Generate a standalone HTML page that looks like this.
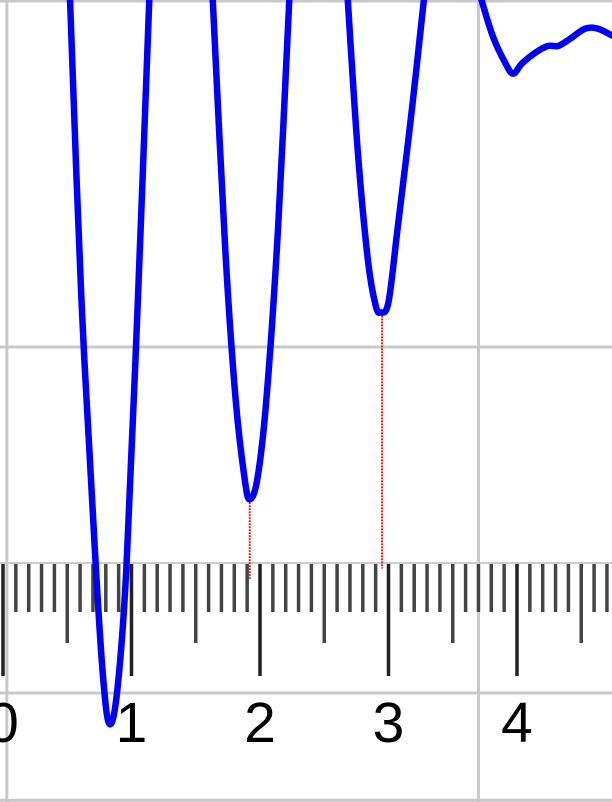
<!DOCTYPE html>
<html><head><meta charset="utf-8"><style>
html,body{margin:0;padding:0;background:#fff;overflow:hidden}
svg{display:block}
</style></head><body>
<svg id="chart" width="612" height="802" viewBox="0 0 612 802" xmlns="http://www.w3.org/2000/svg">
<g id="grid"></g>
<g id="ruler"></g>
<g id="stems"></g>
<path id="curve" fill="none" stroke="#0000ff" stroke-width="6.5" stroke-linejoin="round" stroke-linecap="round"/>
<g id="labels"></g>
</svg>
<script>
const curveX = [0.52,0.61,0.72,0.78,0.83,0.89,0.96,1.05,1.14, 1.63,1.73,1.81,1.88,1.92,1.98,2.05,2.14,2.23, 2.68,2.76,2.84,2.90,2.94,3.00,3.07,3.18,3.28, 3.71,3.81,3.91,3.97,4.04,4.14,4.24,4.32,4.41,4.53,4.63,4.74];
const curveY = [2.02,1.14,0.38,0.04,-0.09,0.01,0.36,1.14,2.02, 2.02,1.28,0.85,0.62,0.56,0.62,0.85,1.34,2.02, 2.02,1.57,1.25,1.12,1.10,1.13,1.34,1.68,2.02, 2.02,1.90,1.82,1.79,1.82,1.85,1.87,1.87,1.89,1.92,1.92,1.90];
const stemX = [1.92, 2.95];
const stemTop = [0.56, 1.10];
const stemBottom = [0.33, 0.36];
const tickLabels = ["0","1","2","3","4"];
const gridXs = [0.03, 3.70];
const gridYs = [2.0, 1.0, 0.0, -0.31];

const NS = "http://www.w3.org/2000/svg";
const sx = v => 3 + v * 128.5;
const sy = v => 693 - v * 346;
function mk(tag, attrs, parent){const e=document.createElementNS(NS,tag);for(const k in attrs)e.setAttribute(k,attrs[k]);parent.appendChild(e);return e;}

const grid = document.getElementById('grid');
gridXs.forEach(g=>{const l=mk('line',{x1:sx(g),x2:sx(g),y1:0,y2:802,stroke:'#c8c8c8','stroke-width':3},grid);

});
gridYs.forEach(g=>{const l=mk('line',{x1:0,x2:612,y1:sy(g),y2:sy(g),stroke:'#c8c8c8','stroke-width':3},grid);

});

const ruler = document.getElementById('ruler');
const rl = mk('line',{x1:0,x2:612,y1:563,y2:563,stroke:'#cccccc','stroke-width':2},ruler);


for(let i=0;i<=48;i++){
  const x=sx(i/10); let y2=612, col='#444', w=3.5;
  if(i%10===0){y2=676;col='#222';}
  else if(i%5===0){y2=643;}
  const t=mk('line',{x1:x,x2:x,y1:564,y2:y2,stroke:col,'stroke-width':w},ruler);
  
  
}

const stems = document.getElementById('stems');
stemX.forEach((x,i)=>{const l=mk('line',{x1:sx(x),x2:sx(x),y1:sy(stemTop[i]),y2:sy(stemBottom[i]),stroke:'#e02020','stroke-width':2,'stroke-dasharray':'2 1'},stems);

});

const pts = curveX.map((x,i)=>[sx(x),sy(curveY[i])]);
let d='';
let segs=[[pts[0]]];
for(let i=1;i<pts.length;i++){ if(curveX[i]-curveX[i-1]>0.3) segs.push([]); segs[segs.length-1].push(pts[i]); }
segs.forEach(s=>{
  d+=`M${s[0][0]},${s[0][1]}`;
  for(let i=0;i<s.length-1;i++){
    const p0=s[Math.max(0,i-1)],p1=s[i],p2=s[i+1],p3=s[Math.min(s.length-1,i+2)];
    const c1=[p1[0]+(p2[0]-p0[0])/6,p1[1]+(p2[1]-p0[1])/6];
    const c2=[p2[0]-(p3[0]-p1[0])/6,p2[1]-(p3[1]-p1[1])/6];
    d+=` C${c1[0]},${c1[1]} ${c2[0]},${c2[1]} ${p2[0]},${p2[1]}`;
  }
});
document.getElementById('curve').setAttribute('d',d);

const labels = document.getElementById('labels');
tickLabels.forEach((t,i)=>{const e=mk('text',{x:sx(i),y:742,'text-anchor':'middle','font-family':'Liberation Sans, sans-serif','font-size':57,fill:'#000'},labels);
e.textContent=t;

});
</script>
</body></html>
